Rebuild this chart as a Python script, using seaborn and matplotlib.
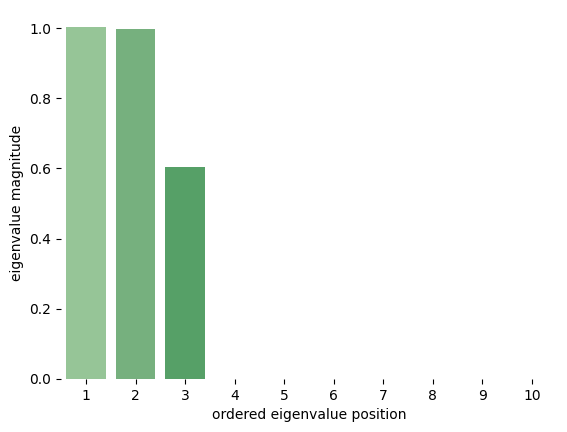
import matplotlib
matplotlib.use("Agg")
import matplotlib.pyplot as plt
import seaborn as sns
import pandas as pd

# eigenvalue positions and magnitudes
positions = ["1", "2", "3", "4", "5", "6", "7", "8", "9", "10"]
magnitudes = [1.003, 0.998, 0.603, 0.0, 0.0, 0.0, 0.0, 0.0, 0.0, 0.0]

bar_colors = ["#96c597", "#76b07e", "#56a067", "#3f8b55", "#347849",
              "#2b663e", "#235433", "#1b4328", "#14321e", "#0d2214"]

df = pd.DataFrame({"position": positions, "magnitude": magnitudes})

fig = plt.figure(figsize=(5.67, 4.32), dpi=100)
ax = fig.add_axes([61.2 / 567, 53 / 432, (556.8 - 61.2) / 567, (379 - 27) / 432])

sns.barplot(data=df, x="position", y="magnitude", hue="position",
            palette=bar_colors, legend=False, saturation=1, width=0.8, ax=ax)

ax.set_ylim(0, 1.0029)
ax.set_xlim(-0.5, 9.5)
ax.set_yticks([0.0, 0.2, 0.4, 0.6, 0.8, 1.0])
ax.set_xlabel("ordered eigenvalue position")
ax.set_ylabel("eigenvalue magnitude")
sns.despine(ax=ax, left=True, bottom=True)

fig.savefig("out.png", dpi=100)
